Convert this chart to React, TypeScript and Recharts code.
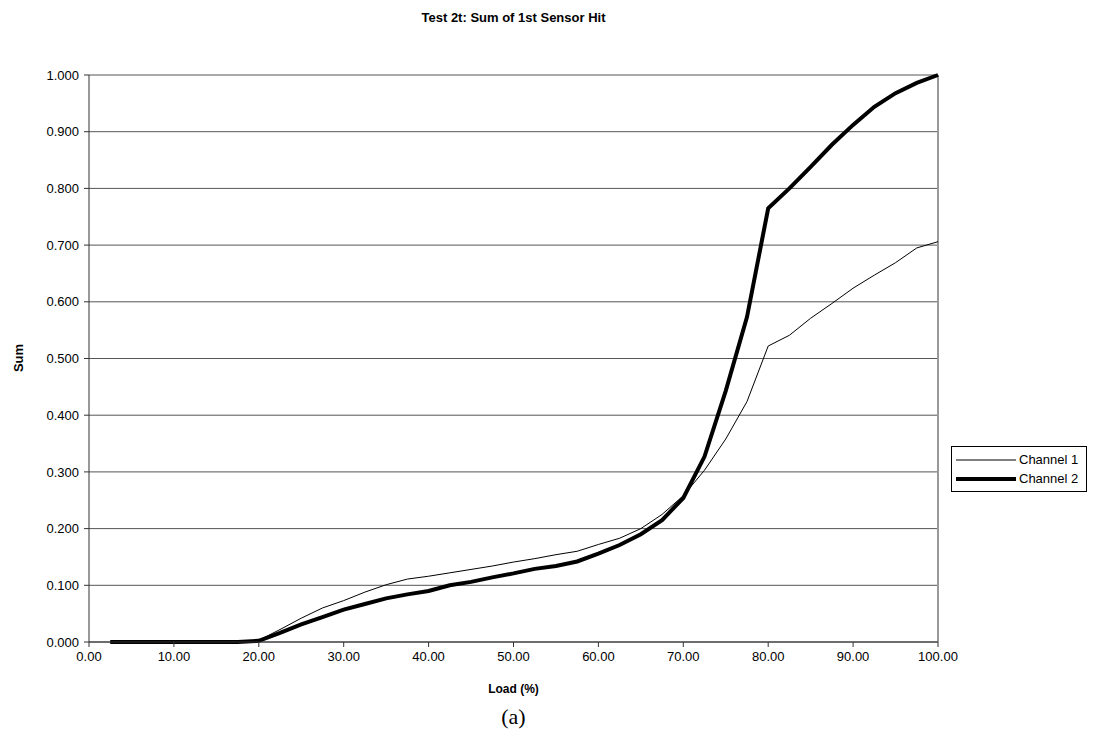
import React from "react";
import {
  LineChart,
  Line,
  XAxis,
  YAxis,
  CartesianGrid,
  ReferenceLine,
} from "recharts";

const loads = [
  2.5, 5, 7.5, 10, 12.5, 15, 17.5, 20, 22.5, 25, 27.5, 30, 32.5, 35, 37.5, 40,
  42.5, 45, 47.5, 50, 52.5, 55, 57.5, 60, 62.5, 65, 67.5, 70, 72.5, 75, 77.5,
  80, 82.5, 85, 87.5, 90, 92.5, 95, 97.5, 100,
];

const channel1 = [
  0, 0, 0, 0, 0, 0, 0, 0.003, 0.022, 0.042, 0.06, 0.073, 0.088, 0.101, 0.111,
  0.116, 0.122, 0.128, 0.134, 0.141, 0.147, 0.154, 0.16, 0.172, 0.183, 0.2,
  0.225, 0.258, 0.303, 0.358, 0.424, 0.522, 0.541, 0.571, 0.597, 0.624, 0.647,
  0.669, 0.695, 0.706,
];

const channel2 = [
  0, 0, 0, 0, 0, 0, 0, 0.002, 0.016, 0.031, 0.044, 0.057, 0.067, 0.077, 0.084,
  0.09, 0.1, 0.106, 0.114, 0.121, 0.129, 0.134, 0.142, 0.156, 0.171, 0.19,
  0.215, 0.254, 0.327, 0.443, 0.573, 0.765, 0.8, 0.838, 0.877, 0.912, 0.944,
  0.968, 0.986, 1.0,
];

const xTicks = [0, 10, 20, 30, 40, 50, 60, 70, 80, 90, 100];
const yTicks = [0, 0.1, 0.2, 0.3, 0.4, 0.5, 0.6, 0.7, 0.8, 0.9, 1.0];
const seriesNames = ["Channel 1", "Channel 2"];

const data = loads.map((x, i) => ({ x, c1: channel1[i], c2: channel2[i] }));

const FONT = "'Liberation Sans', Arial, sans-serif";

export default function App() {
  return (
    <div
      style={{
        position: "absolute",
        left: 0,
        top: 0,
        width: 1101,
        height: 750,
        background: "#fff",
        fontFamily: FONT,
      }}
    >
      <div
        style={{
          position: "absolute",
          left: 89,
          width: 849,
          top: 10,
          textAlign: "center",
          fontWeight: "bold",
          fontSize: 13,
        }}
      >
        Test 2t: Sum of 1st Sensor Hit
      </div>
      <div
        style={{
          position: "absolute",
          left: 8,
          top: 358,
          transform: "translate(-50%, -50%) rotate(-90deg)",
          transformOrigin: "center",
          fontWeight: "bold",
          fontSize: 13,
          marginLeft: 10,
        }}
      >
        Sum
      </div>
      <LineChart
        width={1101}
        height={750}
        data={data}
        margin={{ top: 75, right: 163, bottom: 78, left: 29 }}
      >
        <CartesianGrid
          vertical={false}
          stroke="#555"
          strokeWidth={1}
          horizontalValues={yTicks}
        />
        <ReferenceLine x={100} stroke="#999" strokeWidth={2} ifOverflow="visible" />
        <XAxis
          dataKey="x"
          type="number"
          domain={[0, 100]}
          ticks={xTicks}
          tickFormatter={(v: number) => v.toFixed(2)}
          height={30}
          stroke="#333"
          tickSize={5}
          tickMargin={5}
          tick={{ fill: "#000", fontSize: 13, fontFamily: FONT }}
        />
        <YAxis
          type="number"
          domain={[0, 1]}
          ticks={yTicks}
          tickFormatter={(v: number) => v.toFixed(3)}
          width={60}
          stroke="#333"
          tickSize={5}
          tickMargin={5}
          tick={{ fill: "#000", fontSize: 13, fontFamily: FONT }}
        />
        <Line
          type="linear"
          dataKey="c1"
          name={seriesNames[0]}
          stroke="#000"
          strokeWidth={1}
          dot={false}
          isAnimationActive={false}
        />
        <Line
          type="linear"
          dataKey="c2"
          name={seriesNames[1]}
          stroke="#000"
          strokeWidth={4}
          dot={false}
          isAnimationActive={false}
        />
      </LineChart>
      <div
        style={{
          position: "absolute",
          left: 89,
          width: 849,
          top: 682,
          textAlign: "center",
          fontWeight: "bold",
          fontSize: 12,
        }}
      >
        Load (%)
      </div>
      <div
        style={{
          position: "absolute",
          left: 951,
          top: 446,
          border: "1px solid #000",
          background: "#fff",
          padding: "3px 8px 3px 4px",
          fontSize: 13,
          color: "#000",
        }}
      >
        {seriesNames.map((name, i) => (
          <div
            key={name}
            style={{ display: "flex", alignItems: "center", height: 19 }}
          >
            <svg width={60} height={10} style={{ marginRight: 3 }}>
              <line
                x1={0}
                y1={5}
                x2={60}
                y2={5}
                stroke="#000"
                strokeWidth={i === 0 ? 1 : 4}
              />
            </svg>
            <span>{name}</span>
          </div>
        ))}
      </div>
      <div
        style={{
          position: "absolute",
          left: 89,
          width: 849,
          top: 704,
          textAlign: "center",
          fontFamily: "'Liberation Serif', 'Times New Roman', serif",
          fontSize: 22,
        }}
      >
        (a)
      </div>
    </div>
  );
}
